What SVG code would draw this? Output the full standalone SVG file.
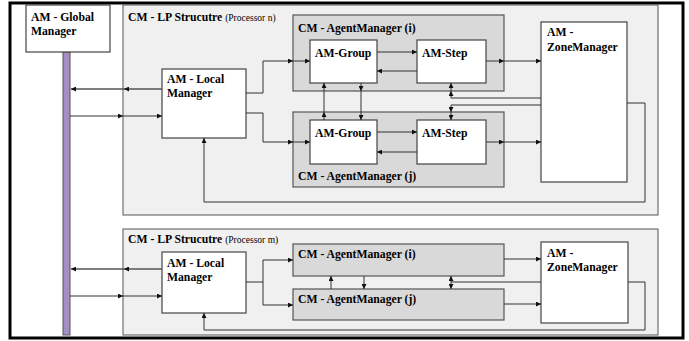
<svg xmlns="http://www.w3.org/2000/svg" width="689" height="341" viewBox="0 0 689 341">
  <style>
    .frame { fill: #ffffff; stroke: #000000; stroke-width: 3; }
    .lp { fill: #f0f0f0; stroke: #555555; stroke-width: 1; }
    .am { fill: #d9d9d9; stroke: #555555; stroke-width: 1.2; }
    .box { fill: #ffffff; stroke: #444444; stroke-width: 1.2; }
    .bar { fill: #a48fc4; stroke: #555555; stroke-width: 1; }
    .t { font-family: "Liberation Serif", "Times New Roman", serif; font-weight: bold; font-size: 11.7px; fill: #000000; }
    .sub { font-weight: normal; font-size: 9.5px; }
    .c { fill: none; stroke: #333333; stroke-width: 1; }
    .cg { fill: none; stroke: #555555; stroke-width: 1.5; }
  </style>
  <defs>
    <marker id="ah" markerUnits="userSpaceOnUse" markerWidth="6" markerHeight="5" refX="5" refY="2.5" orient="auto">
      <path d="M0,0 L5,2.5 L0,5 z" fill="#111111"/>
    </marker>
  </defs>

  <!-- outer frame -->
  <rect class="frame" x="10" y="3" width="673" height="335"/>

  <!-- global manager with its bus -->
  <g id="global-manager">
    <rect class="bar" x="63" y="52" width="7" height="283"/>
    <rect class="box" x="26" y="5" width="84" height="47"/>
    <text class="t" x="31" y="21">AM - Global</text>
    <text class="t" x="31" y="35">Manager</text>
  </g>

  <!-- processor n -->
  <g id="lp-n">
    <rect class="lp" x="123" y="5" width="535" height="210"/>
    <text class="t" x="128" y="21">CM - LP Strucutre <tspan class="sub">(Processor n)</tspan></text>
  </g>
  <g id="am-i-n">
    <rect class="am" x="293" y="15" width="211" height="76"/>
    <text class="t" x="298" y="32">CM - AgentManager (i)</text>
  </g>
  <g id="am-j-n">
    <rect class="am" x="293" y="112" width="211" height="75"/>
    <text class="t" x="298" y="180">CM - AgentManager (j)</text>
  </g>
  <g id="local-n">
    <rect class="box" x="162" y="69" width="84" height="69"/>
    <text class="t" x="167" y="83">AM - Local</text>
    <text class="t" x="167" y="97">Manager</text>
  </g>
  <g id="group-i-n">
    <rect class="box" x="310" y="40" width="67" height="43"/>
    <text class="t" x="315" y="57">AM-Group</text>
  </g>
  <g id="step-i-n">
    <rect class="box" x="417" y="40" width="69" height="43"/>
    <text class="t" x="422" y="57">AM-Step</text>
  </g>
  <g id="group-j-n">
    <rect class="box" x="310" y="120" width="67" height="44"/>
    <text class="t" x="315" y="137">AM-Group</text>
  </g>
  <g id="step-j-n">
    <rect class="box" x="417" y="120" width="69" height="44"/>
    <text class="t" x="422" y="137">AM-Step</text>
  </g>
  <g id="zone-n">
    <rect class="box" x="541" y="22" width="86" height="160"/>
    <text class="t" x="547" y="36">AM -</text>
    <text class="t" x="547" y="51">ZoneManager</text>
  </g>

  <!-- processor m -->
  <g id="lp-m">
    <rect class="lp" x="123" y="229" width="535" height="106"/>
    <text class="t" x="128" y="243">CM - LP Strucutre <tspan class="sub">(Processor m)</tspan></text>
  </g>
  <g id="am-i-m">
    <rect class="am" x="293" y="244" width="211" height="32"/>
    <text class="t" x="298" y="258">CM - AgentManager (i)</text>
  </g>
  <g id="am-j-m">
    <rect class="am" x="293" y="289" width="211" height="31"/>
    <text class="t" x="298" y="303">CM - AgentManager (j)</text>
  </g>
  <g id="local-m">
    <rect class="box" x="162" y="252" width="84" height="61"/>
    <text class="t" x="167" y="267">AM - Local</text>
    <text class="t" x="167" y="281">Manager</text>
  </g>
  <g id="zone-m">
    <rect class="box" x="541" y="242" width="87" height="81"/>
    <text class="t" x="547" y="257">AM -</text>
    <text class="t" x="547" y="271">ZoneManager</text>
  </g>

  <!-- connectors -->
  <g id="connectors">
    <!-- processor n: local manager and bus -->
    <path class="cg" d="M162,89 H124" marker-end="url(#ah)"/>
    <path class="cg" d="M124,89 H71" marker-end="url(#ah)"/>
    <path class="c" d="M70,116 H123" marker-end="url(#ah)"/>
    <path class="c" d="M123,116 H162" marker-end="url(#ah)"/>
    <!-- local manager to groups -->
    <path class="c" d="M246,93 H263 V61 H293" marker-end="url(#ah)"/>
    <path class="c" d="M293,61 H310" marker-end="url(#ah)"/>
    <path class="c" d="M246,113 H263 V142 H293" marker-end="url(#ah)"/>
    <path class="c" d="M293,142 H310" marker-end="url(#ah)"/>
    <!-- group / step exchange -->
    <path class="c" d="M377,52 H417" marker-end="url(#ah)"/>
    <path class="c" d="M417,71 H377" marker-end="url(#ah)"/>
    <path class="c" d="M377,132 H417" marker-end="url(#ah)"/>
    <path class="c" d="M417,152 H377" marker-end="url(#ah)"/>
    <!-- steps to zone manager -->
    <path class="c" d="M486,61 H504" marker-end="url(#ah)"/>
    <path class="c" d="M504,61 H541" marker-end="url(#ah)"/>
    <path class="c" d="M486,142 H504" marker-end="url(#ah)"/>
    <path class="c" d="M504,142 H541" marker-end="url(#ah)"/>
    <!-- group to group -->
    <path class="c" d="M324,120 V112" marker-end="url(#ah)"/>
    <path class="c" d="M324,112 V83" marker-end="url(#ah)"/>
    <path class="c" d="M361,83 V91" marker-end="url(#ah)"/>
    <path class="c" d="M361,91 V120" marker-end="url(#ah)"/>
    <!-- zone manager back to steps -->
    <path class="c" d="M541,98 H451 V91" marker-end="url(#ah)"/>
    <path class="c" d="M451,91 V83" marker-end="url(#ah)"/>
    <path class="c" d="M541,105 H451 V112" marker-end="url(#ah)"/>
    <path class="c" d="M451,112 V120" marker-end="url(#ah)"/>
    <!-- zone manager back to local manager -->
    <path class="c" d="M627,103 H645 V202 H204 V138" marker-end="url(#ah)"/>

    <!-- processor m -->
    <path class="cg" d="M162,269 H124" marker-end="url(#ah)"/>
    <path class="cg" d="M124,269 H71" marker-end="url(#ah)"/>
    <path class="c" d="M70,296 H123" marker-end="url(#ah)"/>
    <path class="c" d="M123,296 H162" marker-end="url(#ah)"/>
    <path class="c" d="M246,282 H263 V260 H293" marker-end="url(#ah)"/>
    <path class="c" d="M263,282 V305 H293" marker-end="url(#ah)"/>
    <path class="c" d="M504,259 H541" marker-end="url(#ah)"/>
    <path class="c" d="M504,304 H541" marker-end="url(#ah)"/>
    <path class="c" d="M331,289 V276" marker-end="url(#ah)"/>
    <path class="c" d="M364,276 V289" marker-end="url(#ah)"/>
    <path class="c" d="M541,282 H451 V276" marker-end="url(#ah)"/>
    <path class="c" d="M451,282 V289" marker-end="url(#ah)"/>
    <path class="c" d="M628,282 H645 V330 H204 V313" marker-end="url(#ah)"/>
  </g>
</svg>
